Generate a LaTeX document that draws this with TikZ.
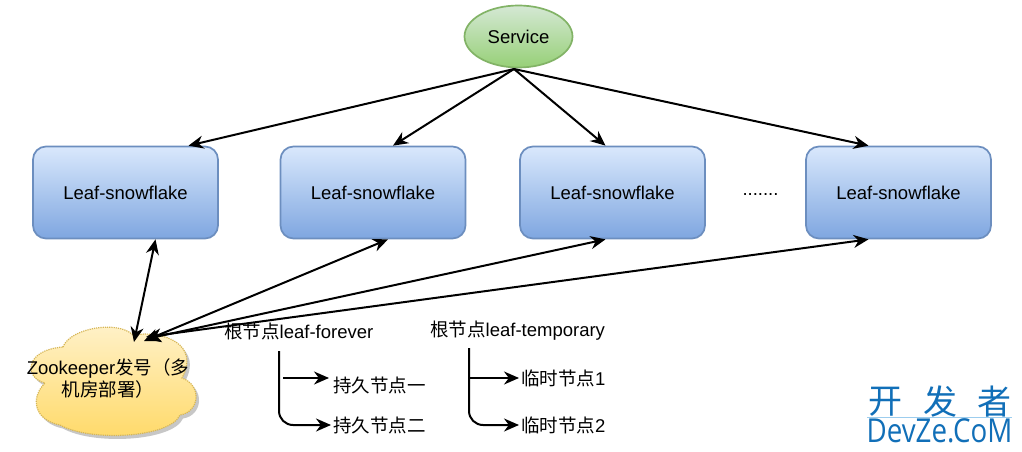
\documentclass[tikz,border=0pt]{standalone}
\usepackage{fontspec}
\setmainfont{Liberation Sans}
\newfontfamily\cjk{Noto Sans CJK SC}
\newfontfamily\wmfont{Open Sans}
\usetikzlibrary{arrows.meta,shapes.geometric}
\definecolor{bluetop}{HTML}{DAE8FC}
\definecolor{bluebot}{HTML}{7EA6E0}
\definecolor{blueln}{HTML}{6C8EBF}
\definecolor{greentop}{HTML}{D5E8D4}
\definecolor{greenbot}{HTML}{97D077}
\definecolor{greenln}{HTML}{82B366}
\definecolor{yeltop}{HTML}{FFF2CC}
\definecolor{yelbot}{HTML}{FFD966}
\definecolor{yelln}{HTML}{D6B656}
\definecolor{wmblue}{HTML}{116FB8}
\definecolor{wmline}{HTML}{9CCDEE}
\newcommand{\zkcloud}{(63,347) .. controls (70,328) and (118,320) .. (133,335)
  .. controls (165,330) and (200,345) .. (182,378)
  .. controls (202,385) and (200,412) .. (180,415)
  .. controls (170,438) and (90,442) .. (60,425)
  .. controls (34,420) and (30,398) .. (45,383)
  .. controls (24,378) and (24,350) .. (63,347) -- cycle}
\tikzset{
  x=1pt,y=-1pt,
  txt/.style={font=\fontsize{18.5}{22}\selectfont,text=black,inner sep=0pt},
  leafbox/.style={txt,shape=rectangle,rounded corners=13pt,draw=blueln,line width=1.7pt,top color=bluetop,bottom color=bluebot,minimum width=185pt,minimum height=92pt},
  svcnode/.style={txt,shape=ellipse,draw=greenln,line width=1.7pt,top color=greentop,bottom color=greenbot,minimum width=108pt,minimum height=62pt},
  arr/.style={line width=2pt,draw=black,-{Stealth[length=15pt,width=13pt]}},
  darr/.style={line width=2pt,draw=black,{Stealth[length=15pt,width=13pt]}-{Stealth[length=15pt,width=13pt]}},
  wm/.style={inner sep=0pt,text=wmblue},
}
\begin{document}
\begin{tikzpicture}
\useasboundingbox (0,0) rectangle (1022,452);
\fill[white] (0,0) rectangle (1022,452);

% cloud
\begin{scope}[shift={(3,3.5)}]
\fill[black!22] \zkcloud;
\end{scope}
\path[top color=yeltop,bottom color=yelbot,draw=yelln,line width=1.2pt,densely dotted] \zkcloud;
\node[txt,align=center] (zk) at (108,378) {Zookeeper{\cjk 发号（多}\\{\cjk 机房部署）}};
\coordinate (zk1) at (134,342);
\coordinate (zk2) at (144,341);
\coordinate (zk3) at (146,339);
\coordinate (zk4) at (146,337);

% nodes
\node[svcnode] (svc) at (518.5,36.5) {Service};
\node[leafbox] (l1) at (125.5,192.5) {Leaf-snowflake};
\node[leafbox] (l2) at (373,192.5) {Leaf-snowflake};
\node[leafbox] (l3) at (612.5,192.5) {Leaf-snowflake};
\node[leafbox] (l4) at (898.5,192.5) {Leaf-snowflake};
\node[txt] (dots) at (760.5,195) {.......};

% service arrows
\coordinate (s0) at (514,69);
\draw[arr] (s0) -- ([xshift=63pt]l1.north);
\draw[arr] (s0) -- ([xshift=20pt]l2.north);
\draw[arr] (s0) -- ([xshift=-7pt]l3.north);
\draw[arr] (s0) -- ([xshift=-30pt]l4.north);

% zookeeper arrows
\draw[darr] (zk1) -- ([xshift=30pt]l1.south);
\draw[darr] (zk2) -- ([xshift=15pt]l2.south);
\draw[darr] (zk3) -- ([xshift=-7pt]l3.south);
\draw[darr] (zk4) -- ([xshift=-30pt]l4.south);

% text trees
\node[txt,anchor=west] (rf) at (224,331) {{\cjk 根节点}leaf-forever};
\node[txt,anchor=west] (rt) at (430,331) {{\cjk 根节点}leaf-temporary};
\node[txt,anchor=west] (f1) at (333,385) {\cjk 持久节点一};
\node[txt,anchor=west] (f2) at (333,425) {\cjk 持久节点二};
\node[txt,anchor=west] (t1) at (521,378) {{\cjk 临时节点}1};
\node[txt,anchor=west] (t2) at (521,425) {{\cjk 临时节点}2};

\coordinate (fa) at (279,351);
\coordinate (fb) at (283,378);
\coordinate (fc) at (329,378);
\coordinate (ta) at (469,348);
\coordinate (tb) at (469,378);
\draw[arr] (fb) -- (fc);
\draw[arr,rounded corners=14pt] (fa) |- ([xshift=-2pt]f2.west);
\draw[arr] (tb) -- ([xshift=-2pt]t1.west);
\draw[arr,rounded corners=14pt] (ta) |- ([xshift=-2pt]t2.west);

% watermark
\node[wm,font=\cjk\fontsize{34}{40}\selectfont,anchor=center] (w1) at (885,402) {开};
\node[wm,font=\cjk\fontsize{34}{40}\selectfont,anchor=center] (w2) at (940,402) {发};
\node[wm,font=\cjk\fontsize{34}{40}\selectfont,anchor=center] (w3) at (994,402) {者};
\fill[wmline] (867,416.6) rectangle (1012,417.6);
\node[wm,font=\wmfont\fontsize{33}{36}\selectfont,anchor=center,xscale=0.84] (w4) at (939.5,431) {DevZe.CoM};
\end{tikzpicture}
\end{document}
